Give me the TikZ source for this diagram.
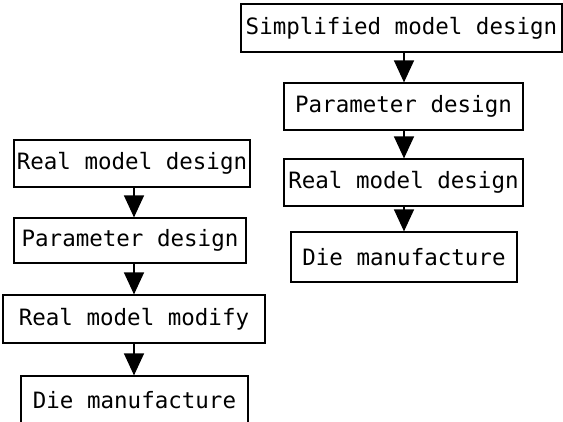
\documentclass[tikz,border=0pt]{standalone}
\usepackage{fontspec}
\setmonofont{DejaVu Sans Mono}
\usetikzlibrary{arrows.meta}
\begin{document}
\begin{tikzpicture}[x=1pt,y=-1pt,
  stepbox/.style={draw,line width=1.2pt,inner sep=0pt,
    font=\ttfamily\fontsize{22.5}{26}\selectfont},
  flow/.style={line width=1.3pt,-{Triangle[width=20pt,length=22pt]}}]
\useasboundingbox (0,0) rectangle (563,422);
% left column
\node[stepbox,minimum width=236pt,minimum height=47pt] (l1) at (132,163.5) {Real model design};
\node[stepbox,minimum width=232pt,minimum height=45pt] (l2) at (130,240.5) {Parameter design};
\node[stepbox,minimum width=262pt,minimum height=48pt] (l3) at (134,319) {Real model modify};
\node[stepbox,minimum width=227pt,minimum height=48pt] (l4) at (134.5,400) {Die manufacture};
% right column
\node[stepbox,minimum width=321pt,minimum height=48pt] (r1) at (401.5,28) {Simplified model design};
\node[stepbox,minimum width=239pt,minimum height=47pt] (r2) at (403.5,106.5) {Parameter design};
\node[stepbox,minimum width=239pt,minimum height=47pt] (r3) at (403.5,182.5) {Real model design};
\node[stepbox,minimum width=226pt,minimum height=50pt] (r4) at (404,257) {Die manufacture};
% connectors
\coordinate (lx) at (134,0);
\coordinate (rx) at (404,0);
\draw[flow] (l1.south -| lx) -- (l2.north -| lx);
\draw[flow] (l2.south -| lx) -- (l3.north -| lx);
\draw[flow] (l3.south -| lx) -- (l4.north -| lx);
\draw[flow] (r1.south -| rx) -- (r2.north -| rx);
\draw[flow] (r2.south -| rx) -- (r3.north -| rx);
\draw[flow] (r3.south -| rx) -- (r4.north -| rx);
\end{tikzpicture}
\end{document}
